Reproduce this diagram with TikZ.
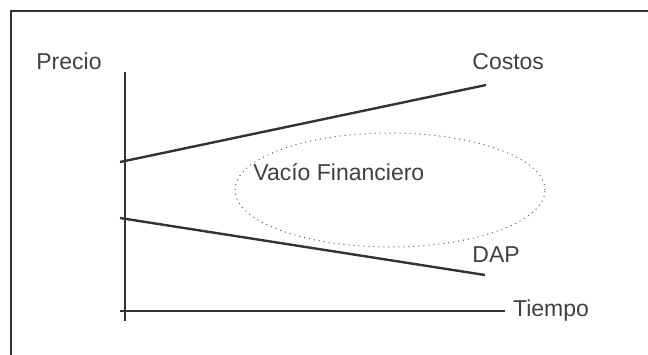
\documentclass[tikz,border=0pt]{standalone}
\usepackage{fontspec}
\setmainfont{Liberation Sans}
\usetikzlibrary{shapes.geometric}
\definecolor{ink}{HTML}{333333}
\definecolor{txt}{HTML}{404040}
\tikzset{
  axis/.style={draw=ink,line width=1.1pt},
  curve/.style={draw=ink,line width=1.2pt},
  gap/.style={draw=ink!80,dotted,line width=0.5pt},
  lbl/.style={anchor=base west,inner sep=0pt,text=txt,font=\fontsize{11.5}{14}\selectfont}
}

\begin{document}
\begin{tikzpicture}[x=0.5pt,y=-0.5pt]
  \useasboundingbox (0,0) rectangle (648,354);
  \clip (0,0) rectangle (648,354);
  % marco
  \coordinate (m0) at (11,11);
  \draw[draw=ink,line width=0.8pt] (m0 -| 660,0) -- (m0) -- (m0 |- 0,370);
  % ejes
  \coordinate (ytop) at (125,72);
  \coordinate (ybot) at (125,321);
  \coordinate (xleft) at (120,311);
  \coordinate (xright) at (505,311);
  \draw[axis] (ytop) -- (ybot);
  \draw[axis] (xleft) -- (xright) node[lbl,anchor=west,xshift=3.5pt] (tiempo) {Tiempo};
  \node[lbl] (precio) at (36,69) {Precio};
  % costos y DAP
  \coordinate (c0) at (120,162);
  \coordinate (c1) at (486,85);
  \coordinate (d0) at (120,218);
  \coordinate (d1) at (485,275);
  \draw[curve] (c0) -- (c1);
  \draw[curve] (d0) -- (d1);
  \node[lbl] (costos) at (472,69) {Costos};
  \node[lbl] (dap) at (472,262) {DAP};
  % vacio financiero
  \node[gap,ellipse,minimum width=155pt,minimum height=57pt,inner sep=0pt] (vacio) at (390,190) {};
  \node[lbl] (texto) at (253,180) {Vacío Financiero};
\end{tikzpicture}
\end{document}
